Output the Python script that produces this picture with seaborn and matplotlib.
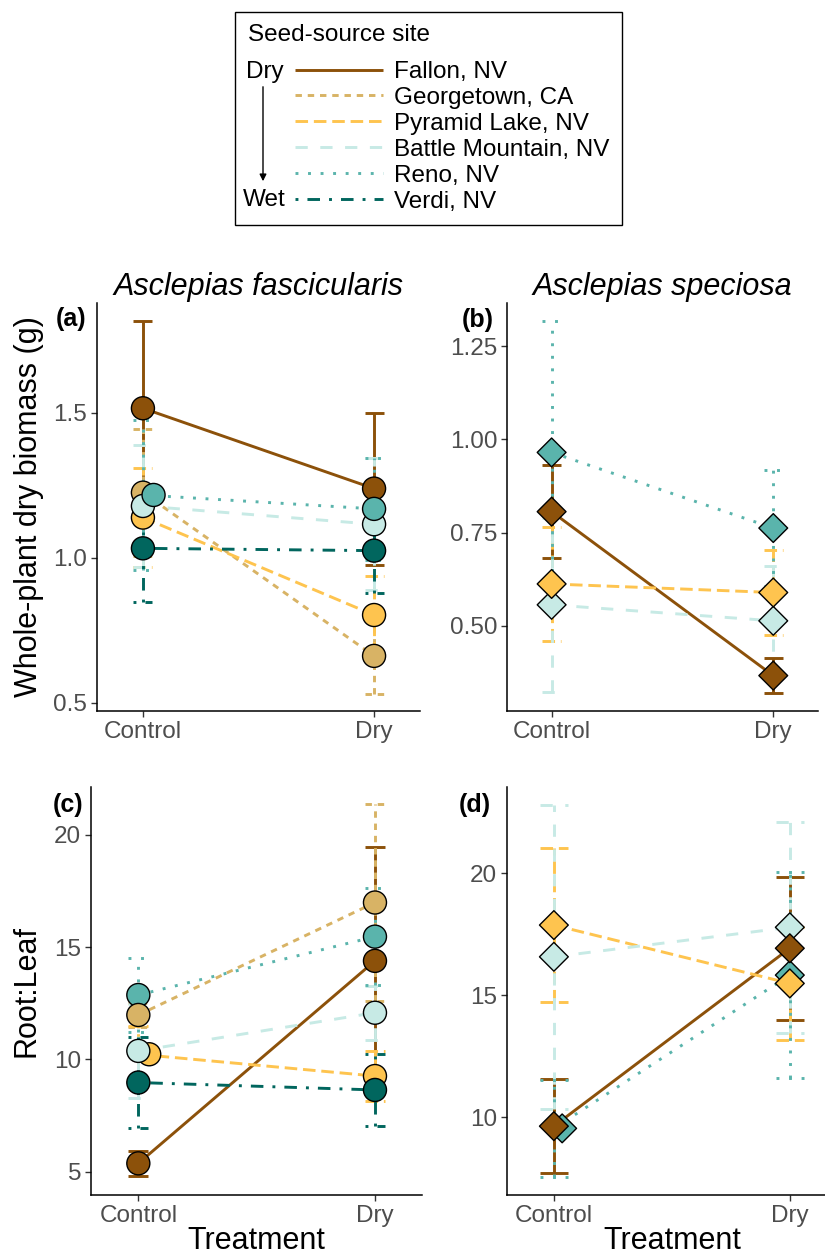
import numpy as np
import pandas as pd
import matplotlib
matplotlib.use("Agg")
import matplotlib.pyplot as plt
import seaborn as sns
from matplotlib.lines import Line2D
from matplotlib.patches import Rectangle, FancyArrowPatch

nan = np.nan

sites = ["Fallon, NV", "Georgetown, CA", "Pyramid Lake, NV",
         "Battle Mountain, NV", "Reno, NV", "Verdi, NV"]
site_colors = ["#8C510A", "#D8B365", "#FEC44F", "#C7EAE5", "#5AB4AC", "#01665E"]
treatments = ["Control", "Dry"]

# (a) whole-plant biomass, A. fascicularis (mean, SE)
a_ctrl = [1.515, 1.224, 1.138, 1.178, 1.216, 1.032]
a_ctrl_se = [0.30, 0.22, 0.17, 0.21, 0.26, 0.186]
a_dry = [1.238, 0.661, 0.802, 1.115, 1.168, 1.024]
a_dry_se = [0.262, 0.13, 0.135, 0.227, 0.175, 0.147]

# (b) whole-plant biomass, A. speciosa
b_ctrl = [0.806, nan, 0.612, 0.556, 0.965, nan]
b_ctrl_se = [0.124, nan, 0.154, 0.233, 0.352, nan]
b_dry = [0.366, nan, 0.589, 0.513, 0.762, nan]
b_dry_se = [0.047, nan, 0.115, 0.147, 0.156, nan]

# (c) root:leaf, A. fascicularis
c_ctrl = [5.37, 11.98, 10.23, 10.38, 12.87, 8.97]
c_ctrl_se = [0.57, 0.55, 1.26, 2.11, 1.63, 2.04]
c_dry = [14.39, 16.99, 9.26, 12.08, 15.47, 8.64]
c_dry_se = [5.06, 4.4, 1.13, 1.2, 2.15, 1.6]

# (d) root:leaf, A. speciosa
d_ctrl = [9.64, nan, 17.88, 16.58, 9.55, nan]
d_ctrl_se = [1.92, nan, 3.14, 6.22, 2.0, nan]
d_dry = [16.93, nan, 15.49, 17.79, 15.83, nan]
d_dry_se = [2.93, nan, 2.3, 4.32, 4.23, nan]

# line styles (in units of line width), as in the legend
site_dashes = ["", (2.2, 2.0), (4.3, 2.0), (4.2, 4.3), (1, 3.3), (1, 3.1, 4.3, 3.1)]
color_map = dict(zip(sites, site_colors))
dash_map = dict(zip(sites, site_dashes))
LW = 2.1
W, H = 825, 1256


def panel_frame(ctrl, ctrl_se, dry, dry_se):
    rows = []
    for i, s in enumerate(sites):
        for t, v, e in [("Control", ctrl[i], ctrl_se[i]), ("Dry", dry[i], dry_se[i])]:
            if not np.isnan(v):
                rows.append({"site": s, "treatment": t, "value": v, "se": e})
    df = pd.DataFrame(rows)
    df["x"] = df["treatment"].map({"Control": 0, "Dry": 1})
    return df


def px_rect(left, right, top, bottom):
    return [left / W, 1 - bottom / H, (right - left) / W, (bottom - top) / H]


panels = [
    dict(tag="a", df=panel_frame(a_ctrl, a_ctrl_se, a_dry, a_dry_se), marker="o", s=275,
         rect=px_rect(96.7, 420.3, 303, 711), ylim=(0.471, 1.878),
         yticks=[0.5, 1.0, 1.5], fmt="{:.1f}", title="Asclepias fascicularis",
         ylabel="Whole-plant dry biomass (g)", ylab_x=-0.164, xlabel=None,
         cap=0.041, nudge={"Reno, NV": 0.046}, tagpos=(56, 326),
         order=["Verdi, NV", "Fallon, NV", "Georgetown, CA", "Pyramid Lake, NV",
                "Battle Mountain, NV", "Reno, NV"]),
    dict(tag="b", df=panel_frame(b_ctrl, b_ctrl_se, b_dry, b_dry_se), marker="D", s=215,
         rect=px_rect(507.3, 817.6, 303, 711), ylim=(0.271, 1.366),
         yticks=[0.5, 0.75, 1.0, 1.25], fmt="{:.2f}", title="Asclepias speciosa",
         ylabel=None, xlabel=None, cap=0.042, nudge={}, tagpos=(462, 327),
         order=["Battle Mountain, NV", "Pyramid Lake, NV", "Reno, NV", "Fallon, NV"]),
    dict(tag="c", df=panel_frame(c_ctrl, c_ctrl_se, c_dry, c_dry_se), marker="o", s=275,
         rect=px_rect(91, 422.3, 786.7, 1195), ylim=(3.96, 22.15),
         yticks=[5, 10, 15, 20], fmt="{:.0f}", title=None,
         ylabel="Root:Leaf", ylab_x=-0.149, xlabel="Treatment",
         cap=0.042, nudge={"Pyramid Lake, NV": 0.046}, tagpos=(53, 812),
         order=["Reno, NV", "Georgetown, CA", "Pyramid Lake, NV", "Battle Mountain, NV",
                "Fallon, NV", "Verdi, NV"]),
    dict(tag="d", df=panel_frame(d_ctrl, d_ctrl_se, d_dry, d_dry_se), marker="D", s=215,
         rect=px_rect(506.7, 837, 786.7, 1195), ylim=(6.82, 23.55),
         yticks=[10, 15, 20], fmt="{:.0f}", title=None,
         ylabel=None, xlabel="Treatment", cap=0.06, nudge={"Reno, NV": 0.035},
         tagpos=(459, 812),
         order=["Battle Mountain, NV", "Reno, NV", "Fallon, NV", "Pyramid Lake, NV"]),
]

sns.set_theme(style="ticks")
plt.rcParams["font.family"] = ["Liberation Sans", "DejaVu Sans"]
plt.rcParams["text.color"] = "black"
plt.rcParams["axes.labelcolor"] = "black"
plt.rcParams["lines.solid_capstyle"] = "butt"
plt.rcParams["lines.dash_capstyle"] = "butt"

fig = plt.figure(figsize=(W / 100, H / 100), dpi=100)

for p in panels:
    ax = fig.add_axes(p["rect"])
    df = p["df"]
    present = [s for s in sites if s in set(df["site"])]

    # error bars (same colour / linetype as the site)
    for _, r in df.iterrows():
        dash = dash_map[r["site"]]
        ls = "solid" if dash == "" else (0, dash)
        lo, hi = r["value"] - r["se"], r["value"] + r["se"]
        ax.vlines(r["x"], lo, hi, colors=color_map[r["site"]], linestyles=ls,
                  linewidth=LW, zorder=1)
        ax.hlines([lo, hi], r["x"] - p["cap"], r["x"] + p["cap"],
                  colors=color_map[r["site"]], linestyles=ls, linewidth=LW, zorder=1)

    sns.lineplot(data=df, x="x", y="value", hue="site", style="site",
                 hue_order=present, style_order=present,
                 palette={s: color_map[s] for s in present},
                 dashes={s: dash_map[s] for s in present},
                 linewidth=LW, errorbar=None, legend=False, ax=ax, zorder=2)

    pts = df.copy()
    pts["xp"] = pts["x"] + np.where(pts["treatment"] == "Control",
                                    pts["site"].map(p["nudge"]).fillna(0.0), 0.0)
    pts["rank"] = pts["site"].map({s: i for i, s in enumerate(p["order"])})
    pts = pts.sort_values("rank")
    sns.scatterplot(data=pts, x="xp", y="value", hue="site",
                    palette={s: color_map[s] for s in present},
                    marker=p["marker"], s=p["s"], edgecolor="black", linewidth=1.0,
                    legend=False, ax=ax, zorder=3)

    ax.set_xlim(-0.2, 1.2)
    ax.set_xticks([0, 1])
    ax.set_xticklabels(treatments)
    ax.set_ylim(*p["ylim"])
    ax.set_yticks(p["yticks"])
    ax.set_yticklabels([p["fmt"].format(v) for v in p["yticks"]])
    sns.despine(ax=ax)
    for sp in ["left", "bottom"]:
        ax.spines[sp].set_color("black")
        ax.spines[sp].set_linewidth(1.1)
    ax.tick_params(labelsize=17.5, labelcolor="#4D4D4D", color="#333333",
                   length=4, width=1.0, pad=3)

    if p["ylabel"]:
        ax.set_ylabel(p["ylabel"], fontsize=22, color="black")
        ax.yaxis.set_label_coords(p["ylab_x"], 0.5)
    else:
        ax.set_ylabel("")
    if p["xlabel"]:
        ax.set_xlabel(p["xlabel"], fontsize=22, color="black")
        ax.xaxis.set_label_coords(0.5, -0.076)
    else:
        ax.set_xlabel("")
    if p["title"]:
        ax.set_title(p["title"], fontsize=22, style="italic", pad=5.8, color="black")

    tx, ty = p["tagpos"]
    fig.text(tx / W, 1 - ty / H, "(" + p["tag"] + ")", fontsize=18,
             fontweight="bold", ha="left", va="baseline", color="black")

# legend: seed-source site ordered dry -> wet
handles = [Line2D([], [], color=color_map[s], linewidth=LW, dashes=dash_map[s])
           for s in sites]
fig.legend(handles, sites, loc="upper left", bbox_to_anchor=(295 / W, 1 - 61 / H),
           frameon=False, fontsize=17.5, handlelength=3.62, handletextpad=0.45,
           labelspacing=0.16, borderpad=0, borderaxespad=0)
fig.add_artist(Rectangle((235 / W, 1 - 225 / H), 387 / W, 213 / H,
                         transform=fig.transFigure, fill=False,
                         edgecolor="black", linewidth=1.0))
fig.text(248 / W, 1 - 35 / H, "Seed-source site", fontsize=17.5, ha="left", va="center")
fig.text(265 / W, 1 - 72 / H, "Dry", fontsize=17.5, ha="center", va="center")
fig.text(264 / W, 1 - 200 / H, "Wet", fontsize=17.5, ha="center", va="center")
fig.add_artist(FancyArrowPatch((263 / W, 1 - 84 / H), (263 / W, 1 - 184 / H),
                               transform=fig.transFigure, arrowstyle="-|>",
                               mutation_scale=10, color="black", linewidth=1.0))

fig.savefig("out.png", dpi=100)
